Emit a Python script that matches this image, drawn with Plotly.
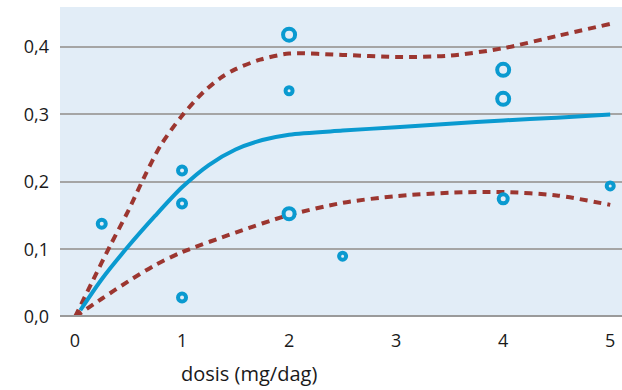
import plotly.graph_objects as go

# Observed data points
pts_x = [0.25, 1, 1, 1, 2, 2, 2, 2.5, 4, 4, 4, 5]
pts_y = [0.138, 0.217, 0.168, 0.029, 0.418, 0.335, 0.153, 0.090, 0.366, 0.323, 0.175, 0.194]
pts_size = [8, 8, 8, 8, 12, 7, 11, 7, 12, 12, 9, 7]

# Fitted curve
fit_x = [0.05, 0.25, 0.5, 0.75, 1.0, 1.25, 1.5, 1.75, 2.0, 2.5, 3.0, 3.5, 4.0, 4.5, 5.0]
fit_y = [0.01, 0.056, 0.105, 0.15, 0.192, 0.225, 0.248, 0.262, 0.270, 0.276, 0.281, 0.286, 0.291, 0.295, 0.300]

# Upper confidence band
up_x = [0.0, 0.17, 0.33, 0.5, 0.64, 0.8, 1.0, 1.2, 1.36, 1.5, 1.73, 2.0, 2.5, 3.0, 3.5, 4.0, 4.5, 5.0]
up_y = [0.0, 0.055, 0.106, 0.158, 0.205, 0.254, 0.298, 0.333, 0.354, 0.367, 0.381, 0.390, 0.388, 0.385, 0.387, 0.398, 0.416, 0.434]

# Lower confidence band
lo_x = [0.0, 0.25, 0.5, 0.75, 1.0, 1.5, 2.0, 2.5, 3.0, 3.5, 4.0, 4.5, 5.0]
lo_y = [0.0, 0.027, 0.053, 0.077, 0.096, 0.125, 0.151, 0.169, 0.179, 0.184, 0.185, 0.180, 0.166]

x_ticks = [0, 1, 2, 3, 4, 5]
x_labels = ["0", "1", "2", "3", "4", "5"]
y_ticks = [0.0, 0.1, 0.2, 0.3, 0.4]
y_labels = ["0,0", "0,1", "0,2", "0,3", "0,4"]

BLUE = "#0a9ad0"
RED = "#9c3630"
BG = "#e2edf7"
FONT = "Open Sans"

fig = go.Figure()
fig.add_trace(go.Scatter(x=up_x, y=up_y, mode="lines", line=dict(color=RED, width=4, dash="8px,6px", shape="spline", smoothing=0.8), hoverinfo="skip"))
fig.add_trace(go.Scatter(x=lo_x, y=lo_y, mode="lines", line=dict(color=RED, width=4, dash="8px,6px", shape="spline", smoothing=0.8), hoverinfo="skip"))
fig.add_trace(go.Scatter(x=fit_x, y=fit_y, mode="lines", line=dict(color=BLUE, width=4, shape="spline", smoothing=0.8), hoverinfo="skip"))
fig.add_trace(go.Scatter(x=pts_x, y=pts_y, mode="markers",
                         marker=dict(symbol="circle", size=pts_size, color=BG, opacity=1,
                                     line=dict(width=4, color=BLUE))))

fig.update_layout(
    width=622, height=390,
    margin=dict(l=60, r=0, t=7, b=73),
    paper_bgcolor="white",
    plot_bgcolor=BG,
    showlegend=False,
    font=dict(family=FONT, size=18, color="#1a1a1a"),
    xaxis=dict(range=[-0.14, 5.11], tickvals=x_ticks, ticktext=x_labels, showgrid=False,
               zeroline=False, showline=False, ticks="", ticklabelstandoff=11),
    yaxis=dict(range=[0, 0.459], tickvals=y_ticks, ticktext=y_labels, showgrid=True,
               gridcolor="#a5a5a5", gridwidth=1.5, zeroline=False, showline=False, ticks="",
               ticklabelstandoff=10),
    shapes=[dict(type="line", xref="paper", yref="y", x0=0, x1=1, y0=0, y1=0,
                 line=dict(color="#9a9a9a", width=4), layer="above")],
    annotations=[dict(text="dosis (mg/dag)", xref="paper", yref="paper", x=(249 - 60) / 562, y=-0.183,
                      xanchor="center", yanchor="middle", showarrow=False, font=dict(size=20, family=FONT, color="#1a1a1a"))],
)

fig.write_html("out.html")
